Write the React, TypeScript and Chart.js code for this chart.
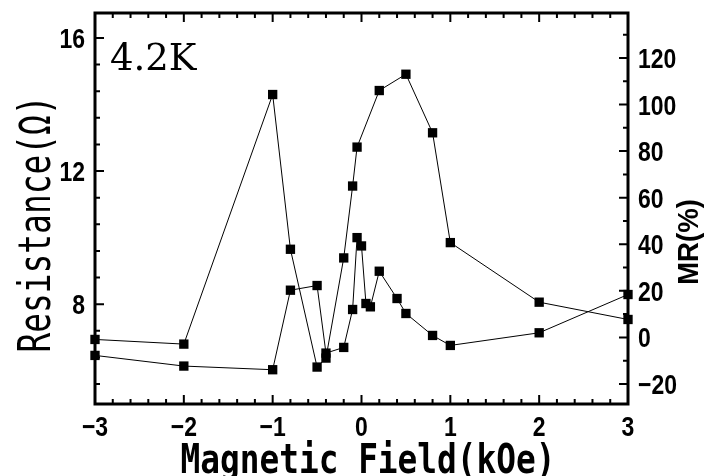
import React, { useEffect, useRef } from "react";
import { Chart, registerables } from "chart.js";

Chart.register(...registerables);

// Sweep A (low branch at negative fields)
const fieldA = [-3, -2, -1, -0.8, -0.5, -0.4, -0.2, -0.1, -0.05, 0, 0.05, 0.1, 0.2, 0.4, 0.5, 0.8, 1, 2, 3];
const resistanceA = [6.46, 6.14, 6.03, 8.42, 8.56, 6.53, 6.7, 7.84, 10.0, 9.75, 8.02, 7.92, 8.99, 8.17, 7.72, 7.06, 6.76, 7.14, 8.29];
// Sweep B
const fieldB = [3, 2, 1, 0.8, 0.5, 0.2, -0.05, -0.1, -0.2, -0.4, -0.5, -0.8, -1, -2, -3];
const resistanceB = [7.54, 8.06, 9.85, 13.15, 14.91, 14.42, 12.72, 11.55, 9.39, 6.38, 6.11, 9.65, 14.3, 6.8, 6.94];

const fieldTicks = [-3, -2, -1, 0, 1, 2, 3];
const resistanceTicks = [8, 12, 16];
const mrTicks = [-20, 0, 20, 40, 60, 80, 100, 120];

const fieldRange = [-3, 3];
const resistanceRange = [5.0, 16.75];
const mrRange = [-28.6, 139.3];
const fieldMinorStep = 0.2;
const resistanceMinorStep = 0.8;
const mrMinorStep = 10;

const xTitle = "Magnetic Field(kOe)";
const yTitle = "Resistance(Ω)";
const y2Title = "MR(%)";
const tempLabel = "4.2K";

const SANS = '"Liberation Sans", Arial, sans-serif';

const fmt = (v: number) => String(v).replace("-", "\u2212");

function minorValues(min: number, max: number, step: number, anchor: number) {
  const out: number[] = [];
  const start = Math.ceil((min - anchor) / step - 1e-9);
  const end = Math.floor((max - anchor) / step + 1e-9);
  for (let i = start; i <= end; i++) out.push(+(anchor + i * step).toFixed(6));
  return out;
}

function drawText(ctx: any, text: string, x: number, y: number, font: string, align: string, sx: number, rot = 0) {
  ctx.save();
  ctx.font = font;
  ctx.textAlign = align;
  ctx.textBaseline = "alphabetic";
  ctx.translate(x, y);
  if (rot) ctx.rotate(rot);
  ctx.scale(sx, 1);
  ctx.fillText(text, 0, 0);
  ctx.restore();
}

const framePlugin = {
  id: "frameTicks",
  beforeDatasetsDraw(chart: any) {
    const { ctx, chartArea: a, scales } = chart;
    const x = scales.x, y = scales.y, y2 = scales.y2;
    ctx.save();
    ctx.strokeStyle = "#000";
    ctx.lineWidth = 2;
    ctx.beginPath();
    const isMajor = (v: number, majors: number[]) => majors.some((m) => Math.abs(m - v) < 1e-6);
    for (const v of minorValues(fieldRange[0], fieldRange[1], fieldMinorStep, 0)) {
      const px = x.getPixelForValue(v);
      const len = isMajor(v, fieldTicks) ? 9 : 5;
      ctx.moveTo(px, a.bottom);
      ctx.lineTo(px, a.bottom - len);
      ctx.moveTo(px, a.top);
      ctx.lineTo(px, a.top + len);
    }
    for (const v of minorValues(resistanceRange[0], resistanceRange[1], resistanceMinorStep, 8)) {
      const py = y.getPixelForValue(v);
      if (py < a.top + 2 || py > a.bottom - 2) continue;
      const len = isMajor(v, resistanceTicks) ? 9 : 5;
      ctx.moveTo(a.left, py);
      ctx.lineTo(a.left + len, py);
    }
    for (const v of minorValues(mrRange[0], mrRange[1], mrMinorStep, 0)) {
      const py = y2.getPixelForValue(v);
      if (py < a.top + 2 || py > a.bottom - 2) continue;
      const len = isMajor(v, mrTicks) ? 9 : 5;
      ctx.moveTo(a.right, py);
      ctx.lineTo(a.right - len, py);
    }
    ctx.stroke();
    ctx.lineWidth = 3;
    ctx.strokeRect(a.left, a.top, a.right - a.left, a.bottom - a.top);
    ctx.restore();
  },
  afterDraw(chart: any) {
    const { ctx, chartArea: a, scales } = chart;
    ctx.save();
    ctx.fillStyle = "#000";
    const tickFont = "bold 28px " + SANS;
    // tick labels
    for (const v of fieldTicks) {
      drawText(ctx, fmt(v), scales.x.getPixelForValue(v), a.bottom + 32, tickFont, "center", 0.82);
    }
    for (const v of resistanceTicks) {
      drawText(ctx, fmt(v), a.left - 10, scales.y.getPixelForValue(v) + 10, tickFont, "right", 0.82);
    }
    for (const v of mrTicks) {
      drawText(ctx, fmt(v), a.right + 10, scales.y2.getPixelForValue(v) + 10, tickFont, "left", 0.82);
    }
    // titles
    drawText(ctx, xTitle, 368, 473, 'bold 41px "DejaVu Sans Mono"', "center", 0.8);
    drawText(ctx, yTitle, 50, 224, '45px "DejaVu Sans Mono"', "center", 0.73, -Math.PI / 2);
    drawText(ctx, y2Title, 698, 242, "bold 29px " + SANS, "center", 0.95, -Math.PI / 2);
    drawText(ctx, tempLabel, 110, 70, '37px "DejaVu Serif"', "left", 1);
    ctx.restore();
  },
};

export default function App() {
  const ref = useRef<HTMLCanvasElement | null>(null);
  useEffect(() => {
    if (!ref.current) return;
    const ds = (fx: number[], ry: number[]) => ({
      data: fx.map((v, i) => ({ x: v, y: ry[i] })),
      showLine: true,
      borderColor: "#000",
      borderWidth: 1,
      backgroundColor: "#000",
      pointStyle: "rect",
      pointRadius: 6.6,
      pointBorderWidth: 0,
      pointBackgroundColor: "#000",
      tension: 0,
      clip: false,
      yAxisID: "y",
    });
    const noPad = (s: any) => {
      s.paddingTop = 0;
      s.paddingBottom = 0;
      s.paddingLeft = 0;
      s.paddingRight = 0;
    };
    const chart = new Chart(ref.current, {
      type: "scatter",
      data: { datasets: [ds(fieldA, resistanceA), ds(fieldB, resistanceB)] as any },
      options: {
        animation: false,
        responsive: false,
        layout: { padding: { top: 13, left: 0, right: 0, bottom: 0 } },
        plugins: { legend: { display: false }, tooltip: { enabled: false } },
        scales: {
          x: {
            type: "linear",
            min: fieldRange[0],
            max: fieldRange[1],
            grid: { display: false, drawTicks: false },
            border: { display: false },
            ticks: { display: false },
            afterBuildTicks: (s: any) => { s.ticks = fieldTicks.map((v) => ({ value: v })); },
            afterFit: (s: any) => { s.height = 72; noPad(s); },
          },
          y: {
            type: "linear",
            position: "left",
            min: resistanceRange[0],
            max: resistanceRange[1],
            grid: { display: false, drawTicks: false },
            border: { display: false },
            ticks: { display: false },
            afterBuildTicks: (s: any) => { s.ticks = resistanceTicks.map((v) => ({ value: v })); },
            afterFit: (s: any) => { s.width = 95; noPad(s); },
          },
          y2: {
            type: "linear",
            position: "right",
            min: mrRange[0],
            max: mrRange[1],
            grid: { display: false, drawTicks: false },
            border: { display: false },
            ticks: { display: false },
            afterBuildTicks: (s: any) => { s.ticks = mrTicks.map((v) => ({ value: v })); },
            afterFit: (s: any) => { s.width = 87; noPad(s); },
          },
        },
      } as any,
      plugins: [framePlugin],
    });
    return () => chart.destroy();
  }, []);
  return (
    <div style={{ position: "absolute", left: 0, top: 0, width: 715, height: 476, background: "#fff" }}>
      <canvas ref={ref} width={715} height={476} style={{ display: "block" }} />
    </div>
  );
}
